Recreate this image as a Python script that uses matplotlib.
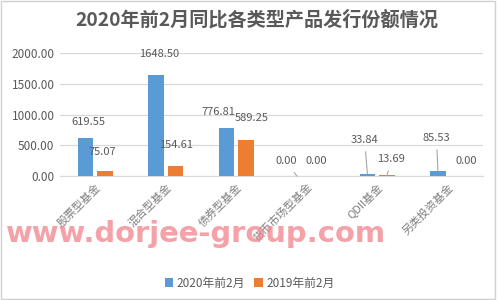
import numpy as np
import matplotlib.pyplot as plt
from matplotlib.patches import Rectangle

plt.rcParams['font.family'] = ['Noto Sans CJK SC', 'DejaVu Sans']

categories = ['股票型基金', '混合型基金', '债券型基金', '货币市场型基金', 'QDII基金', '另类投资基金']
series_2020 = [619.55, 1648.50, 776.81, 0.00, 33.84, 85.53]
series_2019 = [75.07, 154.61, 589.25, 0.00, 13.69, 0.00]
legend_names = ['2020年前2月', '2019年前2月']

# label offsets (points) relative to the bar top, and whether a leader line is drawn
off_2020 = [(2, 8), (2, 11), (-6, 8), (-8, 7), (-2, 21), (-1, 20)]
off_2019 = [(-2, 10), (0, 12), (4, 12), (0, 7), (3, 8), (6, 7)]
lead_2020 = [False, False, False, True, True, True]
lead_2019 = [False, False, False, False, True, False]

grey = '#595959'
fig = plt.figure(figsize=(4.99, 3.0), dpi=100)
ax = fig.add_axes([60 / 499, 1 - 176 / 300, 423 / 499, 123 / 300])

x = np.arange(len(categories))
w = 0.22
b1 = ax.bar(x - 0.14, series_2020, w, color='#5b9bd5', label=legend_names[0], zorder=3)
b2 = ax.bar(x + 0.14, series_2019, w, color='#ed7d31', label=legend_names[1], zorder=3)

for bars, vals, offs, leads in [(b1, series_2020, off_2020, lead_2020),
                                (b2, series_2019, off_2019, lead_2019)]:
    for bar, v, o, ld in zip(bars, vals, offs, leads):
        xc = bar.get_x() + bar.get_width() / 2
        ap = dict(arrowstyle='-', color='#a6a6a6', lw=0.8, shrinkA=3, shrinkB=0) if ld else None
        ax.annotate(f'{v:.2f}', xy=(xc, v), xytext=o, textcoords='offset points',
                    ha='center', va='bottom', fontsize=8, color=grey,
                    arrowprops=ap, zorder=4)

ax.set_xlim(-0.5, len(categories) - 0.5)
ax.set_ylim(0, 2000)
ax.set_yticks([0, 500, 1000, 1500, 2000])
ax.set_yticklabels([f'{t:.2f}' for t in [0, 500, 1000, 1500, 2000]], fontsize=8.5, color=grey)
ax.yaxis.grid(True, color='#d9d9d9', lw=0.9, zorder=0)
ax.set_xticks(x)
ax.set_xticklabels(categories, rotation=45, ha='right', va='top', fontsize=8, color='#7f7f7f',
                   rotation_mode='anchor')
ax.tick_params(length=0, pad=4)
for s in ['top', 'right', 'left']:
    ax.spines[s].set_visible(False)
ax.spines['bottom'].set_color('#d9d9d9')

fig.text(257 / 499, 1 - 20 / 300, '2020年前2月同比各类型产品发行份额情况', ha='center', va='center',
         fontsize=13.8, fontweight='bold', color=grey)

fig.legend(loc='center', bbox_to_anchor=(0.5, 1 - 283 / 300), ncol=2, frameon=False,
           fontsize=8.5, handlelength=0.7, handleheight=0.7, columnspacing=0.8,
           handletextpad=0.3, labelcolor=grey)

# watermark, sized to span about 381 px like the source image
wm = fig.text(6 / 499, 1 - 242 / 300, 'www.dorjee-group.com', ha='left', va='baseline',
              fontsize=18, fontweight='bold', color='#f07a84', alpha=0.7, family='DejaVu Sans')
fig.canvas.draw()
wm.set_fontsize(18 * 381 / wm.get_window_extent().width)

fig.patches.append(Rectangle((0.002, 0.004), 0.99, 0.992, transform=fig.transFigure,
                             fill=False, ec='#d0d0d0', lw=1))

fig.savefig('out.png', dpi=100)
